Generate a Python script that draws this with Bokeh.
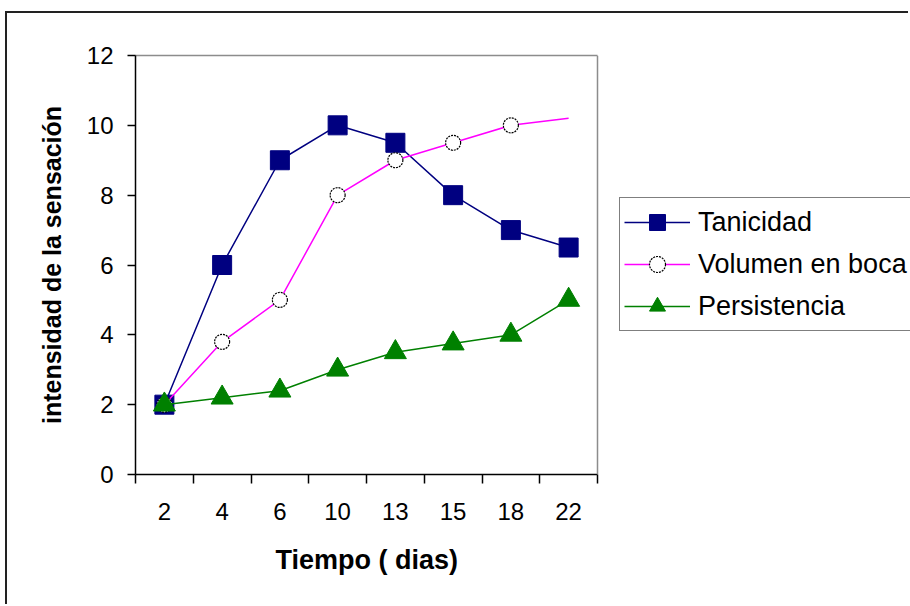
import numpy as np
from bokeh.plotting import figure
from bokeh.models import Range1d, FixedTicker, Legend, LegendItem, LinearAxis, Span, Title
from bokeh.embed import file_html
from bokeh.resources import INLINE

# ---- data ----
dias = ["2", "4", "6", "10", "13", "15", "18", "22"]
tanicidad = [2, 6, 9, 10, 9.5, 8, 7, 6.5]
volumen = [2, 3.8, 5, 8, 9, 9.5, 10, 10.2]
persistencia = [2, 2.2, 2.4, 3, 3.5, 3.75, 4, 5]
y_ticks = [0, 2, 4, 6, 8, 10, 12]
series_names = ["Tanicidad", "Volumen en boca", "Persistencia"]
x_title = "Tiempo ( dias)"
y_title = "intensidad de la sensación"

FONT = "Liberation Sans"
NAVY = "#000080"
MAGENTA = "#FF00FF"
GREEN = "#008000"
GRAY = "#8c8c8c"

n = len(dias)
x = np.arange(n) + 0.5          # category centres
edges = list(range(n + 1))      # category boundaries (tick marks)

# layout: canvas 903x593 (offset 7,13 in the page by margin + border)
W, H = 903, 593
LEFT, TOP, BOTTOM = 128, 42, 132
AREA_W = 462                     # width of the plotting area (the 8 categories)
frame_w = W - LEFT               # frame runs to the right edge (legend lives there)
x_end = n * frame_w / AREA_W

p = figure(width=W, height=H, output_backend="svg", toolbar_location=None,
           x_range=Range1d(0, x_end), y_range=Range1d(0, 12),
           min_border_left=LEFT, min_border_right=0,
           min_border_top=TOP, min_border_bottom=BOTTOM)
# outer chart-area border (left/top visible, right/bottom outside window)
p.margin = (11, 0, 0, 5)
p.styles = {"border-left": "2px solid #222222", "border-top": "2px solid #222222"}

p.xgrid.visible = False
p.ygrid.visible = False
p.background_fill_color = "white"
p.border_fill_color = "white"
p.outline_line_color = None

# x axis
xa = p.xaxis[0]
xa.bounds = (0, n)
xa.ticker = FixedTicker(ticks=list(x), minor_ticks=edges)
xa.major_label_overrides = {float(xi): d for xi, d in zip(x, dias)}
xa.major_tick_line_color = None
xa.major_tick_out = 0
xa.major_tick_in = 0
xa.minor_tick_line_color = "black"
xa.minor_tick_line_width = 1.5
xa.minor_tick_out = 9
xa.minor_tick_in = 0
xa.axis_line_color = "black"
xa.axis_line_width = 1.5
xa.major_label_standoff = 19
xa.major_label_text_font = FONT
xa.major_label_text_font_size = "24px"
xa.major_label_text_color = "black"

# x-axis title, centred under the plotting area
xt = Title(text=x_title, align="left", offset=140, standoff=40,
           text_font=FONT, text_font_style="bold", text_font_size="27px",
           text_color="black")
p.add_layout(xt, "below")

# top edge of the plotting area
top_edge = LinearAxis(bounds=(0, n), ticker=FixedTicker(ticks=[]),
                      axis_line_color=GRAY, axis_line_width=1.5,
                      major_tick_line_color=None, minor_tick_line_color=None,
                      major_label_text_font_size="0px")
p.add_layout(top_edge, "above")
# right edge of the plotting area
p.add_layout(Span(location=n, dimension="height", line_color=GRAY, line_width=1.5))

# y axis
ya = p.yaxis[0]
ya.ticker = FixedTicker(ticks=y_ticks)
ya.minor_tick_line_color = None
ya.major_tick_line_color = "black"
ya.major_tick_line_width = 1.5
ya.major_tick_out = 8
ya.major_tick_in = 0
ya.axis_line_color = "black"
ya.axis_line_width = 1.5
ya.major_label_standoff = 14
ya.major_label_text_font = FONT
ya.major_label_text_font_size = "24px"
ya.major_label_text_color = "black"
ya.axis_label = y_title
ya.axis_label_text_font = FONT
ya.axis_label_text_font_style = "bold"
ya.axis_label_text_font_size = "25px"
ya.axis_label_text_color = "black"
ya.axis_label_standoff = 18

# series
t_line = p.line(x, tanicidad, line_color=NAVY, line_width=1.5)
t_pts = p.scatter(x, tanicidad, marker="square", size=19,
                  fill_color=NAVY, line_color=NAVY)
v_line = p.line(x, volumen, line_color=MAGENTA, line_width=1.5)
v_pts = p.scatter(x[:-1], volumen[:-1], marker="circle", size=15,
                  fill_color="white", line_color="black", line_width=1.2,
                  line_dash="2 1")
g_line = p.line(x, persistencia, line_color=GREEN, line_width=1.5)
g_pts = p.scatter(x, persistencia, marker="triangle", size=22,
                  fill_color=GREEN, line_color=GREEN)

legend = Legend(items=[
    LegendItem(label=series_names[0], renderers=[t_line, t_pts]),
    LegendItem(label=series_names[1], renderers=[v_line, v_pts]),
    LegendItem(label=series_names[2], renderers=[g_line, g_pts]),
], location=(484, 143))
legend.margin = 0
legend.padding = 4
legend.spacing = 2
legend.glyph_width = 66
legend.glyph_height = 40
legend.label_height = 40
legend.label_standoff = 8
legend.label_text_font = FONT
legend.label_text_font_size = "27px"
legend.label_text_color = "black"
legend.border_line_color = "black"
legend.border_line_width = 1.5
legend.background_fill_color = "white"
legend.background_fill_alpha = 1.0
p.add_layout(legend)

open("out.html", "w").write(file_html(p, INLINE))
